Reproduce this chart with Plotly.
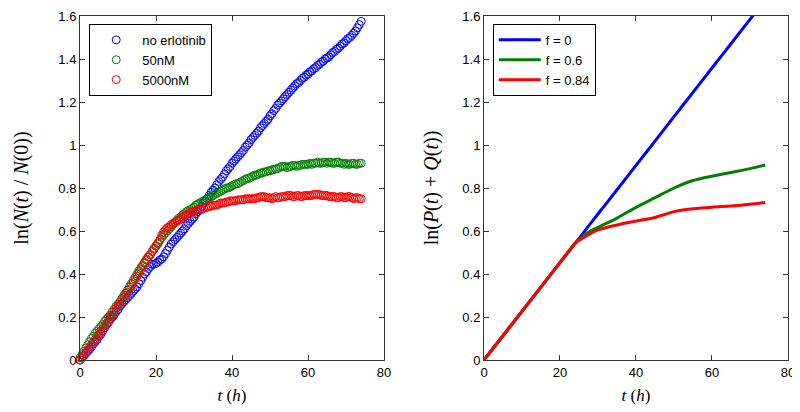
import plotly.graph_objects as go

# left panel: measured growth, one sample every half hour (t = 0 ... 74 h)
t_data = [i * 0.5 for i in range(149)]
no_erlotinib = [
    0.0, 0.01, 0.02, 0.03, 0.04, 0.05, 0.06, 0.075, 0.085, 0.095,
    0.11, 0.12, 0.135, 0.15, 0.165, 0.175, 0.19, 0.20, 0.21, 0.225,
    0.235, 0.25, 0.26, 0.27, 0.28, 0.29, 0.30, 0.31, 0.32, 0.33,
    0.34, 0.355, 0.37, 0.385, 0.40, 0.41, 0.425, 0.435, 0.445, 0.445,
    0.45, 0.455, 0.465, 0.47, 0.48, 0.495, 0.51, 0.525, 0.54, 0.55,
    0.56, 0.57, 0.58, 0.59, 0.60, 0.61, 0.625, 0.635, 0.645, 0.655,
    0.665, 0.68, 0.69, 0.70, 0.715, 0.73, 0.74, 0.75, 0.765, 0.78,
    0.79, 0.80, 0.815, 0.83, 0.84, 0.85, 0.865, 0.88, 0.89, 0.90,
    0.915, 0.925, 0.935, 0.945, 0.955, 0.965, 0.975, 0.99, 1.00, 1.01,
    1.025, 1.035, 1.045, 1.055, 1.065, 1.08, 1.09, 1.10, 1.11, 1.12,
    1.135, 1.145, 1.16, 1.17, 1.185, 1.195, 1.205, 1.215, 1.225, 1.235,
    1.245, 1.255, 1.265, 1.275, 1.285, 1.29, 1.30, 1.31, 1.315, 1.325,
    1.33, 1.34, 1.345, 1.355, 1.36, 1.37, 1.375, 1.385, 1.39, 1.40,
    1.405, 1.41, 1.42, 1.43, 1.435, 1.445, 1.45, 1.46, 1.47, 1.475,
    1.485, 1.495, 1.50, 1.51, 1.52, 1.53, 1.545, 1.56, 1.575]
erlotinib_50nM = [
    0.01, 0.025, 0.04, 0.055, 0.07, 0.085, 0.10, 0.11, 0.125, 0.135,
    0.145, 0.155, 0.165, 0.18, 0.19, 0.20, 0.21, 0.225, 0.235, 0.25,
    0.26, 0.27, 0.285, 0.30, 0.31, 0.325, 0.34, 0.355, 0.37, 0.385,
    0.40, 0.415, 0.43, 0.44, 0.455, 0.47, 0.48, 0.49, 0.505, 0.52,
    0.53, 0.54, 0.555, 0.57, 0.58, 0.59, 0.60, 0.61, 0.62, 0.63,
    0.64, 0.65, 0.66, 0.665, 0.675, 0.68, 0.69, 0.695, 0.70, 0.705,
    0.71, 0.72, 0.725, 0.73, 0.735, 0.74, 0.745, 0.75, 0.755, 0.76,
    0.765, 0.77, 0.775, 0.78, 0.785, 0.79, 0.795, 0.80, 0.80, 0.805,
    0.81, 0.815, 0.82, 0.82, 0.825, 0.83, 0.835, 0.84, 0.845, 0.845,
    0.85, 0.855, 0.86, 0.86, 0.865, 0.87, 0.87, 0.875, 0.875, 0.88,
    0.88, 0.885, 0.885, 0.89, 0.89, 0.895, 0.90, 0.90, 0.90, 0.895,
    0.90, 0.90, 0.905, 0.905, 0.90, 0.905, 0.905, 0.91, 0.91, 0.91,
    0.91, 0.915, 0.91, 0.915, 0.915, 0.92, 0.915, 0.915, 0.92, 0.92,
    0.915, 0.92, 0.92, 0.915, 0.915, 0.92, 0.92, 0.915, 0.915, 0.91,
    0.915, 0.91, 0.91, 0.915, 0.915, 0.91, 0.91, 0.915, 0.915]
erlotinib_5000nM = [
    0.0, 0.01, 0.02, 0.035, 0.045, 0.06, 0.07, 0.085, 0.095, 0.11,
    0.12, 0.13, 0.145, 0.16, 0.17, 0.185, 0.20, 0.21, 0.225, 0.24,
    0.25, 0.26, 0.275, 0.29, 0.30, 0.315, 0.33, 0.345, 0.36, 0.375,
    0.39, 0.405, 0.42, 0.435, 0.45, 0.465, 0.48, 0.49, 0.505, 0.515,
    0.53, 0.545, 0.56, 0.58, 0.595, 0.605, 0.615, 0.62, 0.63, 0.635,
    0.64, 0.645, 0.65, 0.655, 0.665, 0.67, 0.675, 0.68, 0.685, 0.69,
    0.69, 0.695, 0.70, 0.70, 0.70, 0.705, 0.71, 0.71, 0.715, 0.715,
    0.72, 0.72, 0.72, 0.725, 0.73, 0.73, 0.73, 0.735, 0.735, 0.74,
    0.74, 0.74, 0.74, 0.745, 0.745, 0.745, 0.745, 0.75, 0.75, 0.75,
    0.75, 0.75, 0.75, 0.755, 0.755, 0.76, 0.76, 0.76, 0.755, 0.755,
    0.755, 0.75, 0.755, 0.76, 0.755, 0.755, 0.76, 0.76, 0.76, 0.765,
    0.765, 0.765, 0.76, 0.76, 0.765, 0.765, 0.76, 0.76, 0.765, 0.765,
    0.765, 0.765, 0.765, 0.77, 0.77, 0.77, 0.77, 0.765, 0.765, 0.765,
    0.765, 0.76, 0.76, 0.76, 0.76, 0.755, 0.755, 0.76, 0.76, 0.755,
    0.755, 0.76, 0.76, 0.755, 0.75, 0.755, 0.755, 0.75, 0.75]
data_names = ["no erlotinib", "50nM", "5000nM"]

# right panel: model curves
t_model = [0, 10, 20, 24, 26, 28, 30, 35, 40, 45, 50, 55, 60, 65, 70, 74]
f_0 = [0, 0.226, 0.453, 0.543, 0.588, 0.634, 0.679, 0.792, 0.905, 1.018,
       1.132, 1.245, 1.358, 1.471, 1.584, 1.675]
f_06 = [0, 0.226, 0.453, 0.543, 0.575, 0.60, 0.617, 0.66, 0.71, 0.755,
        0.80, 0.835, 0.855, 0.872, 0.89, 0.907]
f_084 = [0, 0.226, 0.453, 0.543, 0.568, 0.588, 0.605, 0.628, 0.646, 0.663,
         0.69, 0.703, 0.711, 0.716, 0.724, 0.733]
model_names = ["f = 0", "f = 0.6", "f = 0.84"]

colors = ["#0000ff", "#008000", "#ff0000"]

fig = go.Figure()

for ys, name, c in zip([no_erlotinib, erlotinib_50nM, erlotinib_5000nM], data_names, colors):
    fig.add_trace(go.Scatter(
        x=t_data, y=ys, name=name, mode="markers",
        marker=dict(symbol="circle-open", size=8, color=c, line=dict(width=1)),
        xaxis="x", yaxis="y", legend="legend", cliponaxis=False))

for ys, name, c in zip([f_0, f_06, f_084], model_names, colors):
    fig.add_trace(go.Scatter(
        x=t_model, y=ys, name=name, mode="lines",
        line=dict(color=c, width=3, shape="spline", smoothing=0.6),
        xaxis="x2", yaxis="y2", legend="legend2"))

axis_style = dict(showline=True, linecolor="#333333", linewidth=1, mirror="allticks",
                  ticks="inside", ticklen=5, tickcolor="#333333", showgrid=False,
                  zeroline=False, automargin=False,
                  tickfont=dict(family="Liberation Sans", size=13, color="black"))
xtitle = dict(text="<i>t</i> (<i>h</i>)",
              font=dict(family="Liberation Serif", size=17, color="black"), standoff=10)
legend_style = dict(xanchor="left", yanchor="top", bordercolor="black", borderwidth=1,
                    bgcolor="white", font=dict(family="Liberation Sans", size=13, color="black"),
                    tracegroupgap=0, itemwidth=42)

# the page body adds an 8px offset, so the figure is 8px smaller each way
fig.update_layout(
    width=792, height=404,
    margin=dict(l=72, r=12, t=8, b=52),
    font=dict(color="black"),
    paper_bgcolor="white", plot_bgcolor="white",
    xaxis=dict(domain=[0, 0.4294], range=[0, 80], dtick=20, title=xtitle, **axis_style),
    yaxis=dict(range=[0, 1.6], dtick=0.2, tickformat="~g",
               title=dict(text="ln(<i>N</i>(<i>t</i>) / <i>N</i>(0))",
                          font=dict(family="Liberation Serif", size=20, color="black"), standoff=24),
               **axis_style),
    xaxis2=dict(domain=[0.5706, 1], range=[0, 80], dtick=20, title=xtitle, anchor="y2", **axis_style),
    yaxis2=dict(range=[0, 1.6], dtick=0.2, tickformat="~g", anchor="x2",
                title=dict(text="ln(<i>P</i>(<i>t</i>) + <i>Q</i>(<i>t</i>))",
                           font=dict(family="Liberation Serif", size=20, color="black"), standoff=18),
                **axis_style),
    legend=dict(x=0.013, y=0.977, **legend_style),
    legend2=dict(x=0.583, y=0.977, **legend_style),
    showlegend=True,
)

fig.write_html("out.html")
